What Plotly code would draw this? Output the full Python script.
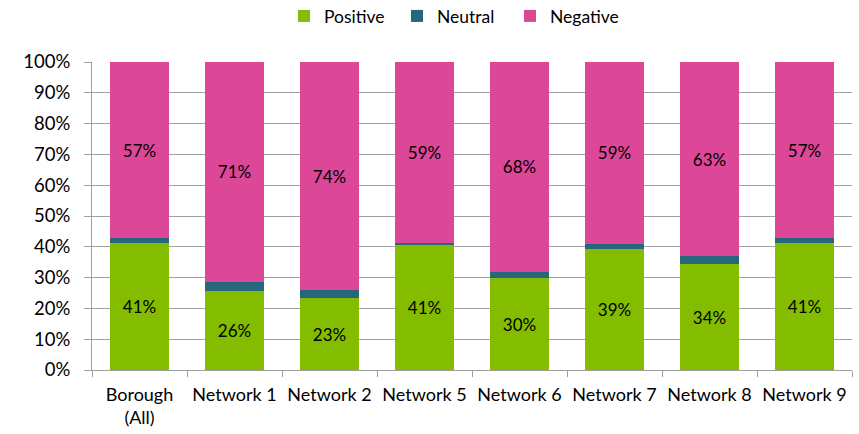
import plotly.graph_objects as go

categories = ['Borough<br>(All)', 'Network 1', 'Network 2', 'Network 5',
              'Network 6', 'Network 7', 'Network 8', 'Network 9']
positive = [41.3, 25.6, 23.3, 40.9, 29.8, 39.4, 34.4, 41.2]
neutral = [1.5, 3.0, 2.6, 0.4, 2.1, 1.6, 2.5, 1.6]
negative = [57.2, 71.4, 74.1, 58.7, 68.1, 59.0, 63.1, 57.2]

FONT = 'Lato'
GRID = '#a0a0a0'

fig = go.Figure()
fig.add_trace(go.Bar(
    x=categories, y=positive, name='Positive',
    marker=dict(color='#84bd00', line=dict(width=0)),
    texttemplate='%{y:.0f}%', textposition='inside',
    insidetextanchor='middle', textangle=0,
    textfont=dict(color='#000000', size=17, family=FONT)))
fig.add_trace(go.Bar(
    x=categories, y=neutral, name='Neutral',
    marker=dict(color='#26677d', line=dict(width=0))))
fig.add_trace(go.Bar(
    x=categories, y=negative, name='Negative',
    marker=dict(color='#dc4798', line=dict(width=0)),
    texttemplate='%{y:.0f}%', textposition='inside',
    insidetextanchor='middle', textangle=0,
    textfont=dict(color='#000000', size=17, family=FONT)))

fig.update_layout(
    barmode='stack', bargap=0.38,
    width=859, height=434,
    margin=dict(l=92, r=7, t=62, b=64, autoexpand=False),
    plot_bgcolor='#ffffff', paper_bgcolor='#ffffff',
    font=dict(family=FONT, size=18, color='#000000'),
    legend=dict(orientation='h', yref='container', yanchor='middle', y=0.963,
                xanchor='left', x=0.2526, traceorder='normal',
                font=dict(size=17.5), itemwidth=30, entrywidth=68),
    xaxis=dict(showline=True, linecolor=GRID, linewidth=1,
               ticks='outside', tickson='boundaries', ticklen=6,
               tickcolor=GRID, showgrid=False, tickangle=0,
               tickfont=dict(size=18), ticklabelstandoff=8),
    yaxis=dict(range=[0, 100], dtick=10, ticksuffix='%',
               showgrid=True, gridcolor=GRID, gridwidth=1,
               showline=True, linecolor=GRID, linewidth=1,
               ticks='outside', ticklen=7, tickcolor=GRID,
               zeroline=False, tickfont=dict(size=18.5),
               ticklabelstandoff=10),
)

# drop the default 8px body margin so the figure fills the window
fig.write_html('out.html', config={'displayModeBar': False},
               post_script="document.body.style.margin='0px';")
